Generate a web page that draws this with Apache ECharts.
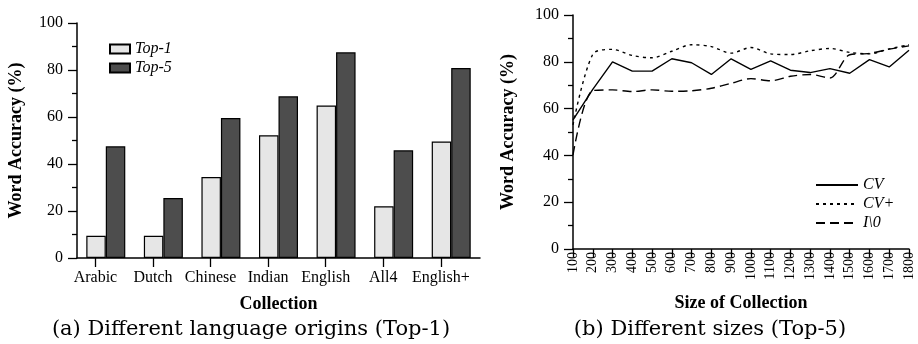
<!DOCTYPE html>
<html>
<head>
<meta charset="utf-8">
<script src="https://cdn.jsdelivr.net/npm/echarts@6/dist/echarts.min.js"></script>
<style>
  html, body { margin: 0; padding: 0; background: #fff; }
  #chart { width: 918px; height: 344px; }
</style>
</head>
<body>
<div id="chart"></div>
<script>
// (a) word accuracy per language origin
const collections = ['Arabic', 'Dutch', 'Chinese', 'Indian', 'English', 'All4', 'English+'];
const top1 = [9.5, 9.5, 34.5, 52.2, 64.9, 22.0, 49.6];
const top5 = [47.5, 25.5, 59.6, 68.8, 87.5, 45.8, 80.8];

// (b) Top-5 word accuracy versus collection size
const sizes = [100, 200, 300, 400, 500, 600, 700, 800, 900, 1000, 1100, 1200, 1300, 1400, 1500, 1600, 1700, 1800];
const cv     = [55.2, 68.2, 80.0, 76.0, 76.0, 81.3, 79.6, 74.6, 81.3, 76.8, 80.4, 76.4, 75.4, 77.1, 75.1, 80.9, 77.8, 84.9];
const cvPlus = [53.0, 83.2, 85.3, 82.7, 81.7, 84.5, 87.3, 86.5, 83.7, 86.1, 83.4, 83.1, 84.7, 85.7, 84.0, 83.4, 85.5, 87.3];
const i0     = [40.2, 67.7, 68.0, 67.3, 68.0, 67.4, 67.6, 68.7, 70.8, 72.8, 71.9, 73.8, 74.6, 73.1, 83.0, 83.6, 85.4, 86.8];

const yTicks = [0, 20, 40, 60, 80, 100];

const SERIF = '"Liberation Serif", "Times New Roman", serif';
const CAPTION_FONT = '"DejaVu Serif", serif';
const BAR_W = 19.5;
// label/tick position inside each band: centre of the Top-1 bar
const LABEL_POS = 0.32;
const catTickPos = collections.map((c, i) => i + LABEL_POS);

const chart = echarts.init(document.getElementById('chart'), null, { renderer: 'canvas' });

const axisLineStyle = { color: '#000', width: 1.5 };
const tickLabel = { color: '#000', fontFamily: SERIF, fontSize: 16 };
const axisName = { color: '#000', fontFamily: SERIF, fontSize: 18, fontWeight: 'bold' };
const captionStyle = { fontFamily: CAPTION_FONT, fontSize: 21, fontWeight: 'normal', color: '#000' };

function yAxisFor(gridIndex, gap) {
  return {
    type: 'value', gridIndex, min: yTicks[0], max: yTicks[yTicks.length - 1], interval: 20,
    name: 'Word Accuracy (%)', nameLocation: 'middle', nameGap: gap, nameTextStyle: axisName,
    axisLine: { show: true, lineStyle: axisLineStyle },
    axisTick: { show: true, length: 9, lineStyle: { color: '#000', width: 1.3 } },
    minorTick: { show: true, splitNumber: 2, length: 5, lineStyle: { color: '#000', width: 1.3 } },
    axisLabel: { ...tickLabel, margin: 14 },
    splitLine: { show: false }
  };
}

const option = {
  animation: false,
  backgroundColor: '#fff',
  textStyle: { fontFamily: SERIF },
  title: [
    { text: '(a) Different language origins (Top-1)', left: 246, top: 314, textAlign: 'center', textStyle: captionStyle },
    { text: '(b) Different sizes (Top-5)', left: 705, top: 314, textAlign: 'center', textStyle: captionStyle }
  ],
  grid: [
    { left: 77, top: 23, width: 403, height: 235, containLabel: false },
    { left: 573, top: 15, width: 336, height: 234, containLabel: false }
  ],
  legend: [
    {
      data: ['Top-1', 'Top-5'], orient: 'vertical', left: 104, top: 36,
      icon: 'rect', itemWidth: 20, itemHeight: 9, itemGap: 3,
      textStyle: { color: '#000', fontFamily: SERIF, fontSize: 16, fontStyle: 'italic', lineHeight: 16 }
    },
    {
      data: ['CV', 'CV+', 'I\\0'], orient: 'vertical', left: 810, top: 172,
      itemWidth: 42, itemHeight: 10, itemGap: 3,
      itemStyle: { opacity: 0 },
      textStyle: { color: '#000', fontFamily: SERIF, fontSize: 16, fontStyle: 'italic', lineHeight: 16 }
    }
  ],
  xAxis: [
    { // band axis that places the bars
      type: 'category', gridIndex: 0, data: collections, boundaryGap: true, position: 'top',
      axisLine: { show: false }, axisTick: { show: false }, axisLabel: { show: false }
    },
    { // visible collection axis
      type: 'value', gridIndex: 0, min: 0, max: collections.length, position: 'bottom',
      name: 'Collection', nameLocation: 'middle', nameGap: 37, nameTextStyle: axisName,
      axisLine: { show: true, onZero: false, lineStyle: axisLineStyle },
      axisTick: { show: true, length: 9, customValues: catTickPos, lineStyle: { color: '#000', width: 1.3 } },
      axisLabel: { ...tickLabel, margin: 12, customValues: catTickPos,
        formatter: v => collections[Math.round(v - LABEL_POS)] || '' },
      splitLine: { show: false }
    },
    {
      type: 'value', gridIndex: 1, min: sizes[0], max: sizes[sizes.length - 1], interval: 100, position: 'bottom',
      name: 'Size of Collection', nameLocation: 'middle', nameGap: 45, nameTextStyle: axisName,
      axisLine: { show: true, onZero: false, lineStyle: axisLineStyle },
      axisTick: { show: true, length: 8, lineStyle: { color: '#000', width: 1.3 } },
      axisLabel: { color: '#000', fontFamily: SERIF, fontSize: 14, rotate: 90, margin: 3,
        showMinLabel: true, showMaxLabel: true, formatter: v => String(v) },
      splitLine: { show: false }
    }
  ],
  yAxis: [ yAxisFor(0, 52), yAxisFor(1, 56) ],
  series: [
    {
      name: 'Top-1', type: 'bar', xAxisIndex: 0, yAxisIndex: 0, data: top1,
      barWidth: BAR_W, barGap: '0%',
      itemStyle: { color: '#e6e6e6', borderColor: '#000', borderWidth: 1.2 }
    },
    {
      name: 'Top-5', type: 'bar', xAxisIndex: 0, yAxisIndex: 0, data: top5,
      barWidth: BAR_W, barGap: '0%',
      itemStyle: { color: '#4d4d4d', borderColor: '#000', borderWidth: 1.2 }
    },
    {
      name: 'CV', type: 'line', xAxisIndex: 2, yAxisIndex: 1,
      data: sizes.map((s, k) => [s, cv[k]]), symbol: 'none',
      lineStyle: { color: '#000', width: 1.4, type: 'solid' }, itemStyle: { color: '#000' }
    },
    {
      name: 'CV+', type: 'line', xAxisIndex: 2, yAxisIndex: 1,
      data: sizes.map((s, k) => [s, cvPlus[k]]), symbol: 'none', smooth: 0.3,
      lineStyle: { color: '#000', width: 1.4, type: [3, 4] }, itemStyle: { color: '#000' }
    },
    {
      name: 'I\\0', type: 'line', xAxisIndex: 2, yAxisIndex: 1,
      data: sizes.map((s, k) => [s, i0[k]]), symbol: 'none', smooth: 0.3,
      lineStyle: { color: '#000', width: 1.4, type: [9, 5] }, itemStyle: { color: '#000' }
    }
  ]
};

chart.setOption(option);
</script>
</body>
</html>
